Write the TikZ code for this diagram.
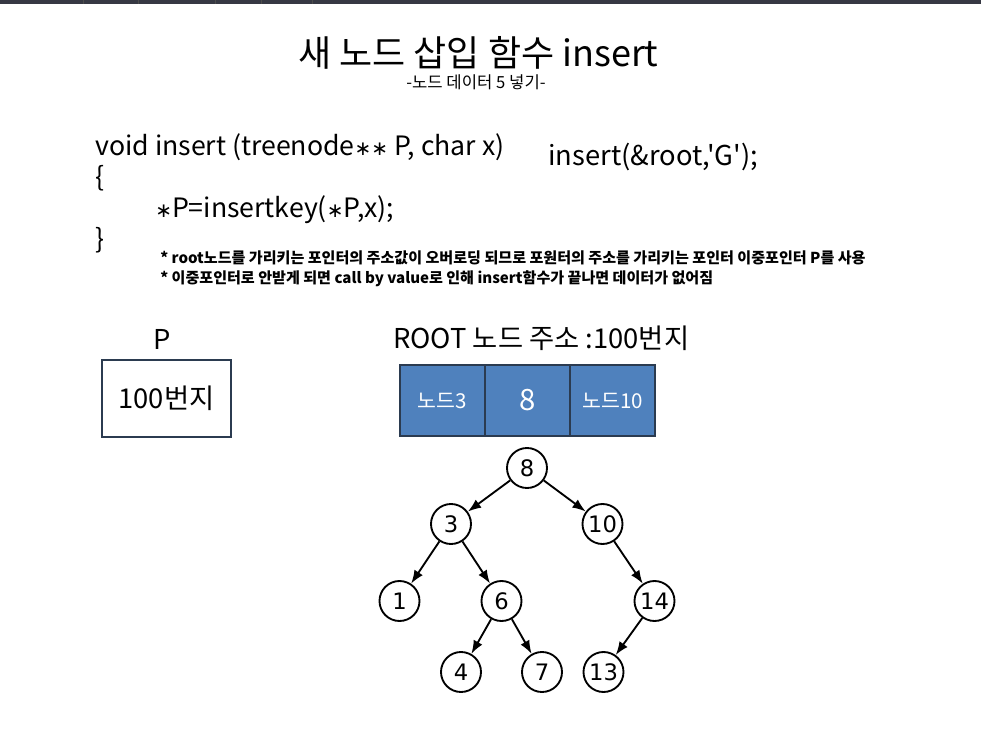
\documentclass[tikz,border=0pt]{standalone}
\usepackage{fontspec}
\setmainfont{Noto Sans CJK KR}
\newfontfamily\plainfont{Noto Sans CJK KR}
\newfontfamily\dejavu{DejaVu Sans}
\usetikzlibrary{arrows.meta}
\definecolor{barcol}{HTML}{363843}
\definecolor{boxblue}{HTML}{4F81BD}
\definecolor{boxedge}{HTML}{2B3B50}
\newcommand{\myast}{{\dejavu\fontsize{15}{15}\selectfont∗}}
\begin{document}
\begin{tikzpicture}[x=0.75pt,y=-0.75pt,
  txt/.style={inner sep=0pt,anchor=base west},
  big/.style={font=\fontsize{20.5}{24}\selectfont},
  code/.style={font=\fontsize{20}{24}\selectfont},
  tnode/.style={circle,draw=black,line width=1.4pt,minimum size=30pt,inner sep=0pt,font=\dejavu\fontsize{17}{20}\selectfont},
  tarrow/.style={line width=1.4pt,-{Latex[length=10pt,width=7.5pt]}},
  cell/.style={draw=boxedge,line width=2pt,fill=boxblue,minimum width=63.75pt,minimum height=53.25pt,inner sep=0pt,text=white}]
\useasboundingbox (0,0) rectangle (981,735);
\fill[white] (0,0) rectangle (981,735);
\fill[barcol] (0,0) rectangle (981,4.5);
\foreach \sx in {83,138,215,261,312} \draw[black!70,line width=0.4pt] (\sx,0) -- (\sx,4.5);
% title
\node[txt,font=\fontsize{27}{32}\selectfont] (title) at (298,67) {새 노드 삽입 함수 insert};
\node[txt,font=\fontsize{12.5}{14}\selectfont] (sub) at (406,89) {-노드 데이터 5 넣기-};
% code
\node[txt,code] (c1) at (95,155) {void insert (treenode\myast\myast\ P, char x)};
\node[txt,code] (c2) at (95,186) {\{};
\node[txt,code] (c3) at (155,217) {\myast P=insertkey(\myast P,x);};
\node[txt,code] (c4) at (95,248) {\}};
\node[txt,font=\plainfont\fontsize{20.5}{24}\selectfont] (call) at (548,165) {insert(\&root,'G');};
% notes
\node[txt,font=\bfseries\fontsize{11.3}{12}\selectfont] (n1) at (160,263) {* root노드를 가리키는 포인터의 주소값이 오버로딩 되므로 포원터의 주소를 가리키는 포인터 이중포인터 P를 사용};
\node[txt,font=\bfseries\fontsize{11.3}{12}\selectfont] (n2) at (160,283) {* 이중포인터로 안받게 되면 call by value로 인해 insert함수가 끝나면 데이터가 없어짐};
% P box
\node[txt,big] (plabel) at (153,349) {P};
\node[draw=boxedge,line width=2pt,minimum width=96.75pt,minimum height=57.75pt,inner sep=0pt,big] (pbox) at (166.5,398.5) {100번지};
% ROOT
\node[txt,big] (rlabel) at (393,348) {ROOT 노드 주소 :100번지};
\node[cell,font=\fontsize{15.4}{18}\selectfont] (cl) at (442.5,400.5) {노드3};
\node[cell,font=\fontsize{22}{24}\selectfont] (cm) at (527.5,400.5) {8};
\node[cell,font=\fontsize{15.4}{18}\selectfont] (cr) at (612.5,400.5) {노드10};
% tree
\node[tnode] (t8) at (527,468) {8};
\node[tnode] (t3) at (451,524) {3};
\node[tnode] (t10) at (602.5,524) {10};
\node[tnode] (t1) at (399.5,601) {1};
\node[tnode] (t6) at (501.5,601) {6};
\node[tnode] (t14) at (654.5,601) {14};
\node[tnode] (t4) at (461,672) {4};
\node[tnode] (t7) at (542,672) {7};
\node[tnode] (t13) at (603.5,672) {13};
\draw[tarrow] (t8) -- (t3);
\draw[tarrow] (t8) -- (t10);
\draw[tarrow] (t3) -- (t1);
\draw[tarrow] (t3) -- (t6);
\draw[tarrow] (t10) -- (t14);
\draw[tarrow] (t6) -- (t4);
\draw[tarrow] (t6) -- (t7);
\draw[tarrow] (t14) -- (t13);
\end{tikzpicture}
\end{document}
